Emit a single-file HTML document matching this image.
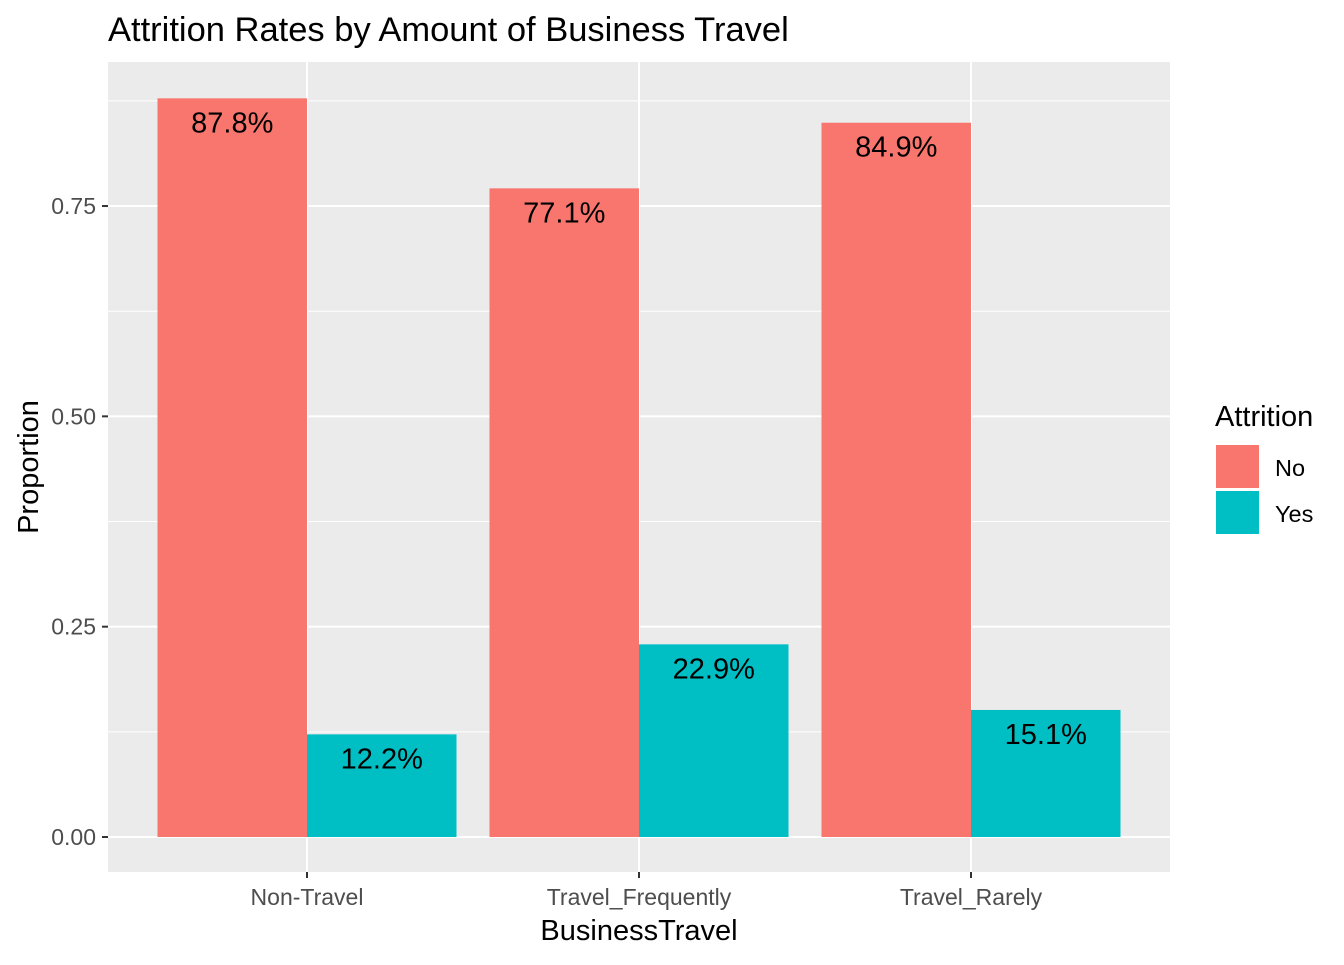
<!DOCTYPE html>
<html><head><meta charset="utf-8"><style>
body{margin:0;background:#fff;font-family:"Liberation Sans",Arial,sans-serif;}
svg text{font-family:"Liberation Sans",Arial,sans-serif;}
</style></head><body>
<svg id="chart" width="1344" height="960" viewBox="0 0 1344 960" xmlns="http://www.w3.org/2000/svg">
<rect x="0" y="0" width="1344" height="960" fill="#fff"/>
<text x="108" y="41" font-size="34.5" fill="#000">Attrition Rates by Amount of Business Travel</text>
<rect x="108" y="62" width="1062" height="810" fill="#ebebeb"/>
<g id="grid"></g>
<g id="bars"></g>
<g id="labels"></g>
<g id="axes"></g>
<text x="639" y="940" font-size="29" text-anchor="middle" fill="#000">BusinessTravel</text>
<text transform="translate(38,467) rotate(-90)" font-size="29" text-anchor="middle" fill="#000">Proportion</text>
<g>
<text x="1215" y="426" font-size="29" fill="#000">Attrition</text>
<rect x="1216" y="445" width="43" height="43" fill="#f8766d"/>
<rect x="1216" y="491" width="43" height="43" fill="#00bfc4"/>
<text x="1275" y="476" font-size="23.5" fill="#000">No</text>
<text x="1275" y="522" font-size="23.5" fill="#000">Yes</text>
</g>
</svg>
<script>
const categories=["Non-Travel","Travel_Frequently","Travel_Rarely"];
const noValues=[0.878,0.771,0.849];
const yesValues=[0.122,0.229,0.151];
const yTicks=[0,0.25,0.5,0.75];
const yTickLabels=["0.00","0.25","0.50","0.75"];
const NS="http://www.w3.org/2000/svg";
const y=v=>837-v*841.3;
const xc=i=>307+i*332;
const bw=149.5;
function mk(tag,attrs,parent){const e=document.createElementNS(NS,tag);for(const k in attrs)e.setAttribute(k,attrs[k]);document.getElementById(parent).appendChild(e);return e;}
for(let i=0;i<yTicks.length-1;i++){const v=(yTicks[i]+yTicks[i+1])/2;
const l=mk("line",{x1:108,x2:1170,y1:y(v),y2:y(v),stroke:"#fff","stroke-width":1},"grid");

}
{const v=0.875;const l=mk("line",{x1:108,x2:1170,y1:y(v),y2:y(v),stroke:"#fff","stroke-width":1},"grid");

}
yTicks.forEach((v,i)=>{
const l=mk("line",{x1:108,x2:1170,y1:y(v),y2:y(v),stroke:"#fff","stroke-width":2},"grid");


const t=mk("line",{x1:102,x2:108,y1:y(v),y2:y(v),stroke:"#333","stroke-width":2},"axes");


const tx=mk("text",{x:96,y:y(v)+8,"font-size":23,"text-anchor":"end",fill:"#4d4d4d"},"axes");
tx.textContent=yTickLabels[i];

});
categories.forEach((c,i)=>{
const g=mk("line",{x1:xc(i),x2:xc(i),y1:62,y2:872,stroke:"#fff","stroke-width":2},"grid");


const t=mk("line",{x1:xc(i),x2:xc(i),y1:872,y2:878,stroke:"#333","stroke-width":2},"axes");


const tx=mk("text",{x:xc(i),y:905,"font-size":23,"text-anchor":"middle",fill:"#4d4d4d"},"axes");
tx.textContent=c;


[[noValues[i],"#f8766d",-bw,"no"],[yesValues[i],"#00bfc4",0,"yes"]].forEach(([v,col,off,nm])=>{
const b=mk("rect",{x:xc(i)+off,y:y(v),width:bw,height:y(0)-y(v),fill:col},"bars");


const lb=mk("text",{x:xc(i)+off+bw/2,y:y(v)+34,"font-size":29,"text-anchor":"middle",fill:"#000"},"labels");
lb.textContent=(v*100).toFixed(1)+"%";

});});
</script>
</body></html>
